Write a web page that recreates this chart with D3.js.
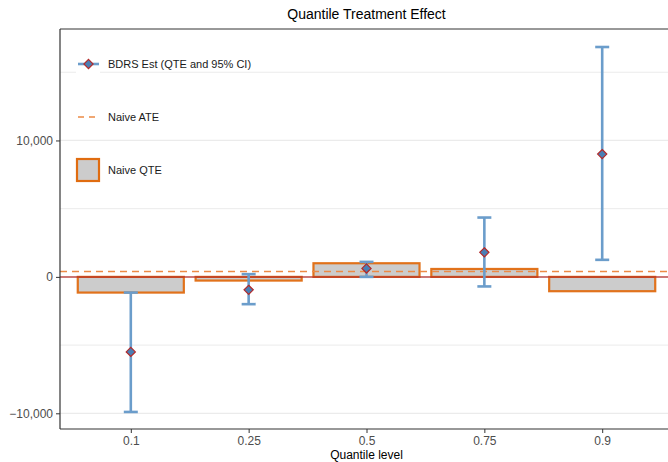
<!DOCTYPE html>
<html>
<head>
<meta charset="utf-8">
<script src="https://cdn.jsdelivr.net/npm/d3@7"></script>
<style>
  body { margin: 0; background: #fff; }
  svg text { font-family: "Liberation Sans", Arial, sans-serif; }
</style>
</head>
<body>
<div id="chart"></div>
<script>
// quantile levels and estimates
var quantiles = ["0.1", "0.25", "0.5", "0.75", "0.9"];
var naiveQte = [-1150, -270, 1000, 580, -1050];
var bdrsEst = [-5500, -950, 620, 1800, 9000];
var ciLow = [-9900, -2000, 0, -700, 1250];
var ciHigh = [-1150, 200, 1100, 4350, 16850];
var naiveAte = 400;
var yTicks = [-10000, 0, 10000];
var yMinor = [-5000, 5000, 15000];

var W = 668, H = 462;
// panel edges (note: "top" is reserved on window, so use pTop etc.)
var pLeft = 60, pTop = 29, pBottom = 429, pRight = 673;

var svg = d3.select("#chart").append("svg")
  .attr("width", W).attr("height", H);

svg.append("defs").append("clipPath").attr("id", "clip")
  .append("rect").attr("x", pLeft).attr("y", pTop)
  .attr("width", pRight - pLeft).attr("height", pBottom - pTop);

// discrete positions with ggplot-ish 0.6 expansion
var x = d3.scalePoint().domain(quantiles)
  .range([pLeft + 0.6 * 118, pRight - 0.6 * 118]);
var step = x.step();
var barW = step * 0.9;

var y = d3.scaleLinear().domain([-11150, 18170]).range([pBottom, pTop]);

var g = svg.append("g").attr("clip-path", "url(#clip)");

// grid
g.selectAll(".gmin").data(yMinor).enter().append("line")
  .attr("x1", pLeft).attr("x2", pRight)
  .attr("y1", function(d) { return y(d); })
  .attr("y2", function(d) { return y(d); })
  .attr("stroke", "#ebebeb").attr("stroke-width", 1);
g.selectAll(".gmaj").data(yTicks).enter().append("line")
  .attr("x1", pLeft).attr("x2", pRight)
  .attr("y1", function(d) { return y(d); })
  .attr("y2", function(d) { return y(d); })
  .attr("stroke", "#ebebeb").attr("stroke-width", 1.2);

// naive qte bars
g.selectAll("rect.bar").data(naiveQte).enter().append("rect")
  .attr("class", "bar")
  .attr("x", function(d, i) { return x(quantiles[i]) - barW / 2; })
  .attr("y", function(d) { return y(Math.max(d, 0)); })
  .attr("width", barW)
  .attr("height", function(d) { return Math.abs(y(d) - y(0)); })
  .attr("fill", "#cccccc")
  .attr("stroke", "#e06c10").attr("stroke-opacity", 0.95)
  .attr("stroke-width", 2.2);

// zero line
g.append("line")
  .attr("x1", pLeft).attr("x2", pRight)
  .attr("y1", y(0)).attr("y2", y(0))
  .attr("stroke", "#b5302a").attr("stroke-opacity", 0.85).attr("stroke-width", 1.5);

// naive ATE
g.append("line")
  .attr("x1", pLeft).attr("x2", pRight)
  .attr("y1", y(naiveAte)).attr("y2", y(naiveAte))
  .attr("stroke", "#ec8a45").attr("stroke-width", 1.6)
  .attr("stroke-dasharray", "7,5");

// error bars
var eb = g.selectAll("g.eb").data(bdrsEst).enter().append("g");
var errColor = "#6b9dcb";
eb.append("line")
  .attr("x1", function(d, i) { return x(quantiles[i]); })
  .attr("x2", function(d, i) { return x(quantiles[i]); })
  .attr("y1", function(d, i) { return y(ciLow[i]); })
  .attr("y2", function(d, i) { return y(ciHigh[i]); })
  .attr("stroke", errColor).attr("stroke-width", 2.6);
[ciLow, ciHigh].forEach(function(arr) {
  eb.append("line")
    .attr("x1", function(d, i) { return x(quantiles[i]) - 7; })
    .attr("x2", function(d, i) { return x(quantiles[i]) + 7; })
    .attr("y1", function(d, i) { return y(arr[i]); })
    .attr("y2", function(d, i) { return y(arr[i]); })
    .attr("stroke", errColor).attr("stroke-width", 2.6);
});
var diamond = "M0,-4.6L4.6,0L0,4.6L-4.6,0Z";
eb.append("path")
  .attr("d", diamond)
  .attr("transform", function(d, i) { return "translate(" + x(quantiles[i]) + "," + y(d) + ")"; })
  .attr("fill", "#4a7fb5").attr("stroke", "#b32a2a").attr("stroke-width", 1.2);

// panel border
svg.append("line").attr("x1", pLeft).attr("x2", W).attr("y1", pTop).attr("y2", pTop)
  .attr("stroke", "#333").attr("stroke-width", 1);
svg.append("line").attr("x1", pLeft).attr("x2", pLeft).attr("y1", pTop).attr("y2", pBottom)
  .attr("stroke", "#333").attr("stroke-width", 1.2);
svg.append("line").attr("x1", pLeft).attr("x2", W).attr("y1", pBottom).attr("y2", pBottom)
  .attr("stroke", "#333").attr("stroke-width", 1.2);

// axes
var yAxis = d3.axisLeft(y).tickValues(yTicks).tickSize(4).tickPadding(3)
  .tickFormat(function(d) { return d3.format(",")(d).replace("-", "\u2212"); });
var ya = svg.append("g").attr("transform", "translate(" + pLeft + ",0)").call(yAxis);
ya.select(".domain").remove();
ya.selectAll("line").attr("stroke", "#333");
ya.selectAll("text").attr("fill", "#4d4d4d").attr("font-size", "12px");

var xAxis = d3.axisBottom(x).tickSize(4).tickPadding(3);
var xa = svg.append("g").attr("transform", "translate(0," + pBottom + ")").call(xAxis);
xa.select(".domain").remove();
xa.selectAll("line").attr("stroke", "#333");
xa.selectAll("text").attr("fill", "#4d4d4d").attr("font-size", "12px");

// titles
svg.append("text").attr("x", (pLeft + pRight) / 2).attr("y", 19)
  .attr("text-anchor", "middle").attr("font-size", "14px").attr("fill", "#000")
  .text("Quantile Treatment Effect");
svg.append("text").attr("x", (pLeft + pRight) / 2).attr("y", 459)
  .attr("text-anchor", "middle").attr("font-size", "12px").attr("fill", "#000")
  .text("Quantile level");

// legend
var lg = svg.append("g");
lg.append("rect").attr("x", 76).attr("y", 53).attr("width", 24).attr("height", 22).attr("fill", "#fff");
lg.append("line").attr("x1", 78).attr("x2", 99).attr("y1", 64).attr("y2", 64)
  .attr("stroke", errColor).attr("stroke-width", 2.6);
lg.append("path").attr("d", diamond).attr("transform", "translate(88.5,64)")
  .attr("fill", "#4a7fb5").attr("stroke", "#b32a2a").attr("stroke-width", 1.2);
lg.append("text").attr("x", 108).attr("y", 68).attr("font-size", "11px").attr("fill", "#1a1a1a")
  .text("BDRS Est (QTE and 95% CI)");

lg.append("line").attr("x1", 78).attr("x2", 99).attr("y1", 117).attr("y2", 117)
  .attr("stroke", "#ec8a45").attr("stroke-width", 1.6).attr("stroke-dasharray", "6,5");
lg.append("text").attr("x", 108).attr("y", 121).attr("font-size", "11px").attr("fill", "#1a1a1a")
  .text("Naive ATE");

lg.append("rect").attr("x", 77).attr("y", 159).attr("width", 22).attr("height", 22)
  .attr("fill", "#cccccc").attr("stroke", "#e06c10").attr("stroke-width", 2.2);
lg.append("text").attr("x", 108).attr("y", 174).attr("font-size", "11px").attr("fill", "#1a1a1a")
  .text("Naive QTE");
</script>
</body>
</html>
